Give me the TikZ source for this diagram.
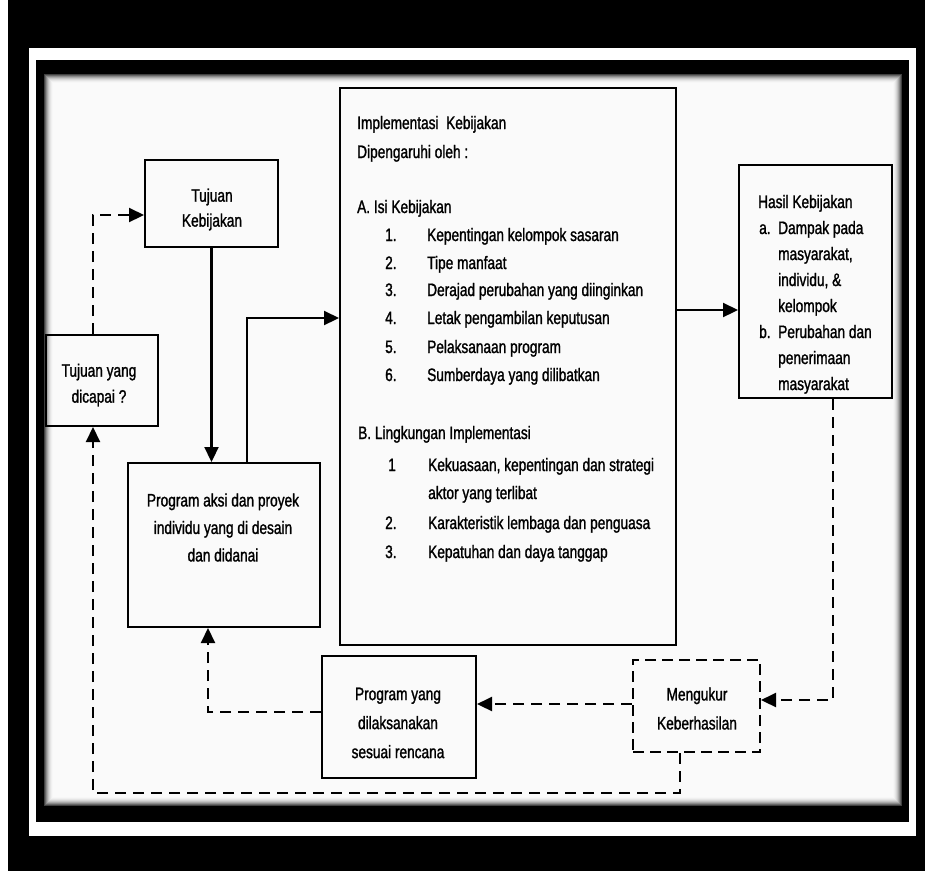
\documentclass[tikz,border=0pt]{standalone}
\usepackage{fontspec}
\setmainfont{Liberation Sans}[FakeStretch=0.76,FakeBold=1.3]
\usetikzlibrary{arrows.meta}
\begin{document}
\begin{tikzpicture}[x=1pt,y=-1pt,
  box/.style={draw=black, line width=2pt, inner sep=0pt},
  dbox/.style={draw=black, line width=2pt, inner sep=0pt, dash pattern=on 11pt off 6pt},
  txt/.style={inner sep=0pt, font=\fontsize{18}{26}\selectfont, text=black},
  ltxt/.style={txt, anchor=base west},
  arr/.style={line width=2.2pt, -{Triangle[length=15pt,width=14pt]}},
  darr/.style={line width=2.2pt, dash pattern=on 11pt off 7pt, -{Triangle[length=15pt,width=14pt]}},
]
% frame
\fill[black] (0,0) rectangle (925,871);
\fill[white] (0,0) rectangle (8,871);
\fill[white] (29,48) rectangle (916,836);
\fill[black] (36,60) rectangle (909,822);
\fill[black!2] (44,74) rectangle (902,806);
\foreach \i/\o in {0/75,1/60,2/46,3/34,4/24,5/16,6/10,7/6,8/3}
  \draw[black!\o, line width=1pt] (44.5+\i,74.5+\i) rectangle (901.5-\i,805.5-\i);
\useasboundingbox (0,0) rectangle (925,871);

% boxes
\node[box, minimum width=133pt, minimum height=87pt] (tk) at (211.5,203.5) {};
\node[box, minimum width=112pt, minimum height=91pt] (tyd) at (102,380.5) {};
\node[box, minimum width=192pt, minimum height=164pt] (pa) at (224,545) {};
\node[box, minimum width=336pt, minimum height=557pt] (ik) at (508,366.5) {};
\node[box, minimum width=153pt, minimum height=233pt] (hk) at (815.5,281.5) {};
\node[dbox, minimum width=127pt, minimum height=92pt] (mk) at (696.5,706) {};
\node[box, minimum width=154pt, minimum height=122pt] (py) at (399,717) {};

% centred texts
\node[txt, align=center, font=\fontsize{18}{25}\selectfont] (tkt) at (212,209.5) {Tujuan\\Kebijakan};
\node[txt, align=center] (tydt) at (99,385) {Tujuan yang\\dicapai ?};
\node[txt, align=center, font=\fontsize{18}{27.5}\selectfont] (pat) at (223,527.5) {Program aksi dan proyek\\individu yang di desain\\dan didanai};
\node[txt, align=center, font=\fontsize{18}{29}\selectfont] (pyt) at (398,723) {Program yang\\dilaksanakan\\sesuai rencana};
\node[txt, align=center, font=\fontsize{18}{29}\selectfont] (mkt) at (697,708.5) {Mengukur\\Keberhasilan};

% Implementasi texts
\node[ltxt] (i0) at (357,129) {Implementasi~ Kebijakan};
\node[ltxt] (i00) at (357,158) {Dipengaruhi oleh :};
\node[ltxt] (ia) at (357,213) {A. Isi Kebijakan};
\node[ltxt] (na1) at (385,241) {1.};
\node[ltxt] (ta1) at (427,241) {Kepentingan kelompok sasaran};
\node[ltxt] (na2) at (385,269) {2.};
\node[ltxt] (ta2) at (427,269) {Tipe manfaat};
\node[ltxt] (na3) at (385,296) {3.};
\node[ltxt] (ta3) at (427,296) {Derajad perubahan yang diinginkan};
\node[ltxt] (na4) at (385,324) {4.};
\node[ltxt] (ta4) at (427,324) {Letak pengambilan keputusan};
\node[ltxt] (na5) at (385,353) {5.};
\node[ltxt] (ta5) at (427,353) {Pelaksanaan program};
\node[ltxt] (na6) at (385,381) {6.};
\node[ltxt] (ta6) at (427,381) {Sumberdaya yang dilibatkan};
\node[ltxt] (ib) at (358,439) {B. Lingkungan Implementasi};
\node[ltxt] (nb1) at (388,471) {1};
\node[ltxt] (tb1) at (428,471) {Kekuasaan, kepentingan dan strategi};
\node[ltxt] (tb1b) at (428,499) {aktor yang terlibat};
\node[ltxt] (nb2) at (385,529) {2.};
\node[ltxt] (tb2) at (428,529) {Karakteristik lembaga dan penguasa};
\node[ltxt] (nb3) at (385,558) {3.};
\node[ltxt] (tb3) at (428,558) {Kepatuhan dan daya tanggap};

% Hasil texts
\node[ltxt] (h0) at (758,208) {Hasil Kebijakan};
\node[ltxt] (ha) at (759,234) {a.};
\node[ltxt] (ha1) at (778,234) {Dampak pada};
\node[ltxt] (ha2) at (778,260) {masyarakat,};
\node[ltxt] (ha3) at (778,286) {individu, \&};
\node[ltxt] (ha4) at (778,312) {kelompok};
\node[ltxt] (hb) at (759,338) {b.};
\node[ltxt] (hb1) at (778,338) {Perubahan dan};
\node[ltxt] (hb2) at (778,364) {penerimaan};
\node[ltxt] (hb3) at (778,390) {masyarakat};

% connectors
\coordinate (c1) at (93,215);
\draw[darr] (tyd.north -| c1) -- (c1) -- (c1 -| tk.west);
\draw[arr] (tk.south) -- (tk.south |- pa.north);
\coordinate (c3) at (247,318);
\draw[arr] (pa.north -| c3) -- (c3) -- (c3 -| ik.west);
\coordinate (c4) at (700,310);
\draw[arr] (c4 -| ik.east) -- (c4 -| hk.west);
\coordinate (c5) at (833,700);
\draw[darr] (hk.south -| c5) -- (c5) -- (c5 -| mk.east);
\coordinate (c6) at (600,704);
\draw[darr] (c6 -| mk.west) -- (c6 -| py.east);
\coordinate (c7) at (208,712);
\draw[darr] (c7 -| py.west) -- (c7) -- (c7 |- pa.south);
\coordinate (c8) at (680,793);
\coordinate (c9) at (93,793);
\draw[darr] (mk.south -| c8) -- (c8) -- (c9) -- (c9 |- tyd.south);
\end{tikzpicture}
\end{document}
